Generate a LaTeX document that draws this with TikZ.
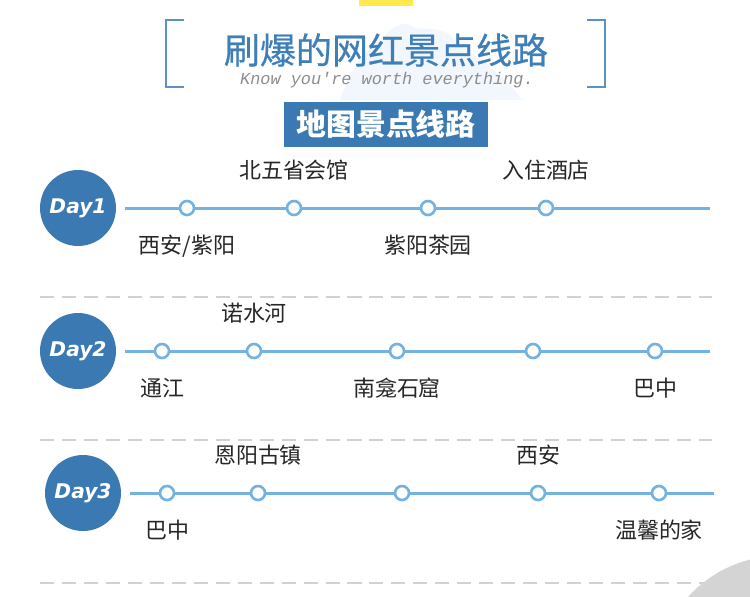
\documentclass[tikz,border=0pt]{standalone}
\usepackage{fontspec}
\setmainfont{Noto Sans CJK SC}
\newfontfamily\titlefont{Noto Sans CJK SC}[FakeBold=0.6]
\newfontfamily\dayfont{DejaVu Sans}
\newfontfamily\handfont{Liberation Mono}
\usetikzlibrary{positioning}

\definecolor{routeblue}{HTML}{3A79B2}
\definecolor{titleblue}{HTML}{3F7FB8}
\definecolor{linkblue}{HTML}{74B2E2}
\definecolor{barcolor}{HTML}{FFE94D}

\tikzstyle{every node}=[inner sep=0pt]
\tikzstyle{day}=[circle, fill=routeblue, minimum size=1.52cm, text=white, font={\dayfont\bfseries\itshape\fontsize{11.5}{14}\selectfont}]
\tikzstyle{stop}=[circle, draw=linkblue, fill=white, line width=1.5pt, minimum size=0.28cm]
\tikzstyle{route}=[draw=linkblue, line width=1.7pt]
\tikzstyle{sep}=[draw=black!18, line width=1pt, dash pattern=on 8pt off 4.5pt]
\tikzstyle{place}=[text=black!85, font={\fontsize{12.5}{15}\selectfont}, text height=9pt, text depth=1.5pt]
\tikzstyle{bracket}=[draw=titleblue!85, line width=1.3pt]

\begin{document}
\begin{tikzpicture}[x=0.02cm, y=-0.02cm, node distance=0.36cm]
    \useasboundingbox (0,0) rectangle (750,596);

    % header
    \fill [barcolor] (359,0) rectangle (413,6);
    \fill [linkblue!10] (340,100) .. controls (350,70) and (365,50) .. (385,35) .. controls (395,25) and (405,20) .. (415,28) .. controls (430,30) and (445,25) .. (460,45) .. controls (480,60) and (505,75) .. (522,100) -- cycle;
    \draw [bracket] (184,20) -- (166,20) -- (166,87) -- (184,87);
    \draw [bracket] (587,20) -- (605,20) -- (605,87) -- (587,87);
    \node [text=titleblue, font={\titlefont\fontsize{20.5}{24}\selectfont}] (title) at (386,50) {刷爆的网红景点线路};
    \node [text=black!45, font={\handfont\itshape\fontsize{9.6}{11}\selectfont}] (motto) at (387,80) {Know you're worth everything.};
    \node [fill=routeblue, text=white, minimum width=4.1cm, minimum height=0.9cm, font={\bfseries\fontsize{17}{20}\selectfont}] (maptitle) at (386,124) {地图景点线路};

    % day 1
    \node [day] (day1) at (78,208) {Day1};
    \coordinate (r1a) at (125,208);
    \coordinate (r1b) at (710,208);
    \draw [route] (r1a) -- (r1b);
    \node [stop] (s11) at (187,208) {};
    \node [stop] (s12) at (294,208) {};
    \node [stop] (s13) at (428,208) {};
    \node [stop] (s14) at (546,208) {};
    \node [place, below=0.43cm of s11] (p11) {西安/紫阳};
    \node [place, above=of s12] (p12) {北五省会馆};
    \node [place, below=0.43cm of s13] (p13) {紫阳茶园};
    \node [place, above=of s14] (p14) {入住酒店};

    \coordinate (l1a) at (40,297);
    \coordinate (l1b) at (712,297);
    \draw [sep] (l1a) -- (l1b);

    % day 2
    \node [day] (day2) at (78,351) {Day2};
    \coordinate (r2a) at (125,351);
    \coordinate (r2b) at (710,351);
    \draw [route] (r2a) -- (r2b);
    \node [stop] (s21) at (162,351) {};
    \node [stop] (s22) at (254,351) {};
    \node [stop] (s23) at (397,351) {};
    \node [stop] (s24) at (533,351) {};
    \node [stop] (s25) at (655,351) {};
    \node [place, below=0.43cm of s21] (p21) {通江};
    \node [place, above=of s22] (p22) {诺水河};
    \node [place, below=0.43cm of s23] (p23) {南龛石窟};
    \node [place, below=0.43cm of s25] (p25) {巴中};

    \coordinate (l2a) at (40,440);
    \coordinate (l2b) at (712,440);
    \draw [sep] (l2a) -- (l2b);

    % day 3
    \node [day] (day3) at (83,493) {Day3};
    \coordinate (r3a) at (130,493);
    \coordinate (r3b) at (714,493);
    \draw [route] (r3a) -- (r3b);
    \node [stop] (s31) at (167,493) {};
    \node [stop] (s32) at (258,493) {};
    \node [stop] (s33) at (402,493) {};
    \node [stop] (s34) at (538,493) {};
    \node [stop] (s35) at (659,493) {};
    \node [place, below=0.43cm of s31] (p31) {巴中};
    \node [place, above=of s32] (p32) {恩阳古镇};
    \node [place, above=of s34] (p34) {西安};
    \node [place, below=0.43cm of s35] (p35) {温馨的家};

    \coordinate (l3a) at (40,583);
    \coordinate (l3b) at (712,583);
    \draw [sep] (l3a) -- (l3b);

    % corner
    \fill [black!17] (780,680) circle (124);
\end{tikzpicture}
\end{document}
